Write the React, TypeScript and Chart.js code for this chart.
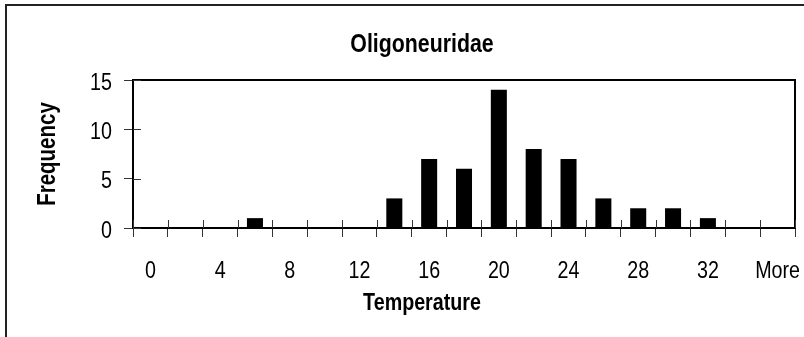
import React, { useEffect, useRef } from "react";
import { Chart, registerables } from "chart.js";

Chart.register(...registerables);

// Histogram bins (upper bin edges) and their frequencies
const binLabels = ["0", "2", "4", "6", "8", "10", "12", "14", "16", "18", "20", "22", "24", "26", "28", "30", "32", "34", "More"];
const frequencies = [0, 0, 0, 1, 0, 0, 0, 3, 7, 6, 14, 8, 7, 3, 2, 2, 1, 0, 0];
const yTicks = [0, 5, 10, 15];

const chartTitle = "Oligoneuridae";
const xTitle = "Temperature";
const yTitle = "Frequency";

// Arial-style face, squeezed horizontally to a narrow cut
const FONT = "'Liberation Sans', Arial, sans-serif";
const NARROW = 0.82;
const W = 804;
const H = 337;
// the outer chart frame; titles are centred on it
const FRAME = { left: 5, top: 4, width: 834, height: 360 };
const frameCenter = FRAME.left + FRAME.width / 2;

function narrowText(
  ctx: CanvasRenderingContext2D,
  text: string,
  x: number,
  y: number,
  font: string,
  align: CanvasTextAlign,
  rotate = 0
) {
  ctx.save();
  ctx.translate(x, y);
  if (rotate) ctx.rotate(rotate);
  ctx.scale(NARROW, 1);
  ctx.font = font;
  ctx.textAlign = align;
  ctx.textBaseline = "alphabetic";
  ctx.fillStyle = "#000";
  ctx.fillText(text, 0, 0);
  ctx.restore();
}

// Draws the plot frame (top/right edges), inner halves of tick marks, tick labels and titles
const framePlugin = {
  id: "frameAndTitles",
  afterDraw(chart: any) {
    const { ctx, chartArea, scales } = chart;
    const { left, right, top, bottom } = chartArea;
    ctx.save();
    ctx.strokeStyle = "#000";
    ctx.lineWidth = 2;
    ctx.beginPath();
    ctx.moveTo(left, top);
    ctx.lineTo(right, top);
    ctx.lineTo(right, bottom);
    ctx.stroke();

    ctx.strokeStyle = "#333";
    ctx.lineWidth = 1;
    const x = scales.x;
    for (let i = 0; i <= binLabels.length; i++) {
      const px = Math.round(x.getPixelForValue(i - 0.5)) + 0.5;
      ctx.beginPath();
      ctx.moveTo(px, bottom);
      ctx.lineTo(px, bottom - 8);
      ctx.stroke();
    }
    const y = scales.y;
    yTicks.forEach((v) => {
      const py = Math.round(y.getPixelForValue(v)) + 0.5;
      ctx.beginPath();
      ctx.moveTo(left, py);
      ctx.lineTo(left + 8, py);
      ctx.stroke();
    });
    ctx.restore();

    const tickFont = `24px ${FONT}`;
    binLabels.forEach((lab, i) => {
      if (i % 2 !== 0) return;
      narrowText(ctx, lab, x.getPixelForValue(i), bottom + 50, tickFont, "center");
    });
    yTicks.forEach((v) => {
      narrowText(ctx, String(v), left - 21, y.getPixelForValue(v) + 9.5, tickFont, "right");
    });

    narrowText(ctx, chartTitle, frameCenter, 52, `bold 26px ${FONT}`, "center");
    narrowText(ctx, xTitle, frameCenter, 310, `bold 24px ${FONT}`, "center");
    narrowText(ctx, yTitle, 55, (top + bottom) / 2, `bold 25px ${FONT}`, "center", -Math.PI / 2);
  },
};

export default function App() {
  const ref = useRef<HTMLCanvasElement>(null);

  useEffect(() => {
    const canvas = ref.current;
    if (!canvas) return;
    const chart = new Chart(canvas, {
      type: "bar",
      data: {
        labels: binLabels,
        datasets: [
          {
            data: frequencies,
            backgroundColor: "#000",
            borderWidth: 0,
            barPercentage: 0.46,
            categoryPercentage: 1,
          },
        ],
      },
      options: {
        responsive: false,
        animation: false,
        devicePixelRatio: 1,
        layout: { padding: { top: 80, right: 9, left: 0, bottom: 59 } },
        plugins: {
          legend: { display: false },
          title: { display: false },
          tooltip: { enabled: false },
        },
        scales: {
          x: {
            type: "category",
            offset: true,
            grid: {
              display: true,
              offset: true,
              drawOnChartArea: false,
              drawTicks: true,
              tickLength: 9,
              color: "#333",
              lineWidth: 1,
            },
            border: { display: true, color: "#000", width: 2 },
            ticks: { display: false, autoSkip: false },
            afterFit: (s: any) => {
              s.height = 50;
              s.paddingLeft = 0;
              s.paddingRight = 0;
            },
          },
          y: {
            min: 0,
            max: 15,
            grid: {
              display: true,
              drawOnChartArea: false,
              drawTicks: true,
              tickLength: 9,
              color: "#333",
              lineWidth: 1,
            },
            border: { display: true, color: "#000", width: 2 },
            ticks: { display: false, stepSize: 5 },
            afterFit: (s: any) => {
              s.width = 133;
              s.paddingTop = 0;
              s.paddingBottom = 0;
            },
          },
        },
      },
      plugins: [framePlugin],
    });
    return () => chart.destroy();
  }, []);

  return (
    <div style={{ position: "fixed", inset: 0, overflow: "hidden", background: "#fff" }}>
      <div
        style={{
          position: "absolute",
          left: FRAME.left,
          top: FRAME.top,
          width: FRAME.width,
          height: FRAME.height,
          border: "2px solid #222",
          boxSizing: "border-box",
        }}
      />
      <canvas
        ref={ref}
        width={W}
        height={H}
        style={{ position: "absolute", left: 0, top: 0, width: W, height: H }}
      />
    </div>
  );
}
